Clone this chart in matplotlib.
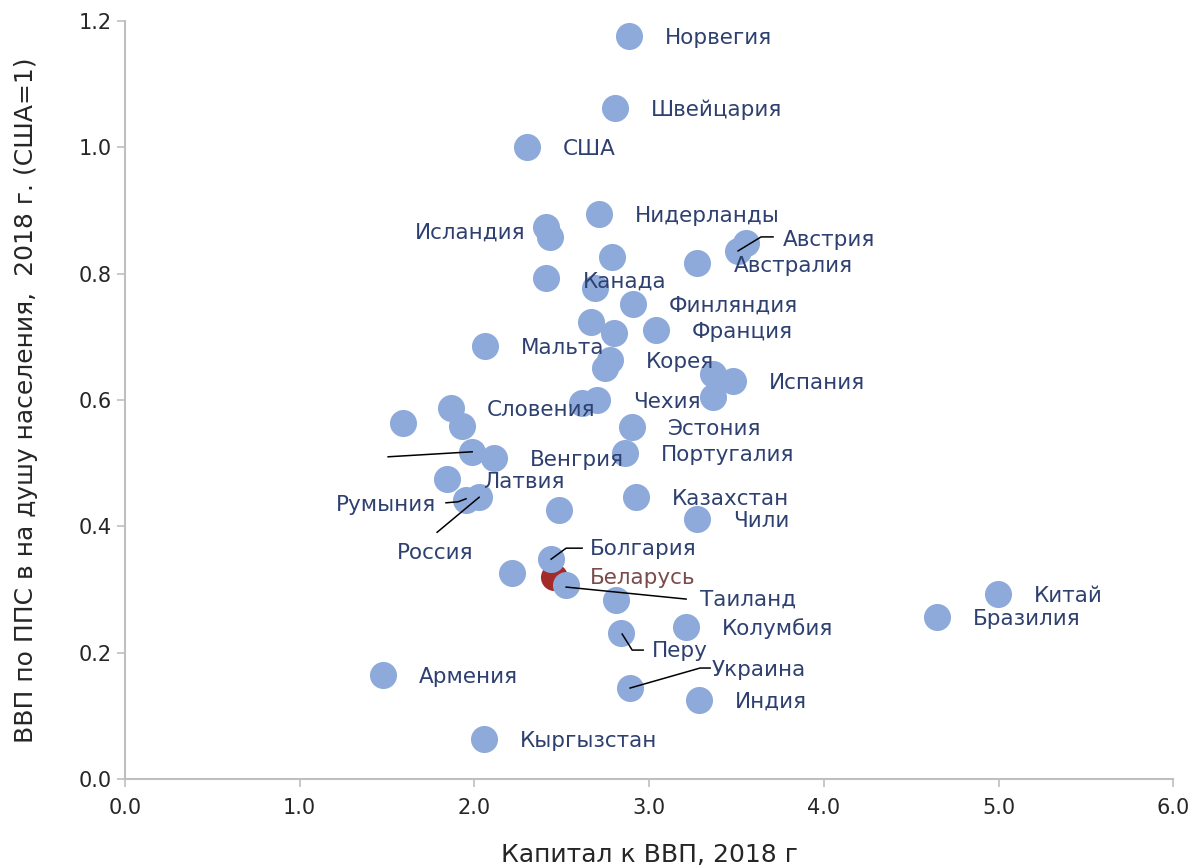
import matplotlib
matplotlib.use("Agg")
import matplotlib.pyplot as plt

# capital/GDP (x) vs GDP per capita PPP, USA=1 (y), 2018
countries = ["Норвегия", "Швейцария", "США", "Нидерланды", "Исландия", "",
             "", "Австрия", "Австралия", "", "", "Канада",
             "Финляндия", "", "", "Франция", "Мальта", "Корея",
             "", "", "Испания", "", "Чехия", "",
             "Словения", "", "", "Эстония", "Португалия", "",
             "Венгрия", "Латвия", "Румыния", "Россия", "", "Казахстан",
             "Чили", "Болгария", "Таиланд", "", "", "Колумбия",
             "Перу", "Украина", "Индия", "Армения", "Кыргызстан", "Китай",
             "Бразилия"]
capital = [2.885, 2.805, 2.301, 2.714, 2.410, 2.433,
           2.788, 3.509, 3.555, 3.275, 2.410, 2.691,
           2.908, 2.668, 2.800, 3.040, 2.061, 2.777,
           2.748, 3.366, 3.481, 3.366, 2.702, 2.616,
           1.866, 1.592, 1.929, 2.903, 2.863, 1.987,
           2.113, 1.843, 1.952, 2.027, 2.485, 2.926,
           3.275, 2.439, 2.525, 2.216, 2.811, 3.212,
           2.840, 2.891, 3.286, 1.477, 2.055, 4.998,
           4.649]
gdp_pc = [1.176, 1.062, 1.001, 0.894, 0.874, 0.858,
          0.826, 0.836, 0.849, 0.817, 0.793, 0.777,
          0.752, 0.723, 0.706, 0.711, 0.685, 0.663,
          0.651, 0.641, 0.630, 0.605, 0.600, 0.595,
          0.587, 0.564, 0.559, 0.557, 0.516, 0.518,
          0.508, 0.475, 0.442, 0.446, 0.426, 0.446,
          0.412, 0.348, 0.307, 0.326, 0.283, 0.241,
          0.231, 0.144, 0.125, 0.165, 0.063, 0.293,
          0.256]

belarus_name = "Беларусь"
belarus_x = 2.456
belarus_y = 0.320

x_ticks = [0, 1, 2, 3, 4, 5, 6]
y_ticks = [0.0, 0.2, 0.4, 0.6, 0.8, 1.0, 1.2]

BLUE = "#8eaadb"
RED = "#a52a2a"
NAVY = "#2e4070"
FS = 15.5

# label placement in pixels relative to point: (dx, dy, ha, va)
default_off = (36, -2, "left", "center")
label_off = {
    "Исландия": (-21, -6, "right", "center"),
    "Канада": (-12, 7, "left", "center"),
    "Австрия": (45, 11, "left", "center"),
    "Австралия": (-12, -23, "left", "center"),
    "Латвия": (36, -3, "left", "center"),
    "Румыния": (-30, -5, "right", "center"),
    "Россия": (-44, -56, "center", "center"),
    "Болгария": (39, 10, "left", "center"),
    "Таиланд": (134, -15, "left", "center"),
    "Перу": (31, -18, "left", "center"),
    "Украина": (82, 18, "left", "center"),
}
# leader lines, pixel offsets from the point
leaders = {
    "Австрия": [(0, 0), (23, 14), (35, 14)],
    "Румыния": [(0, 1), (-8, -2), (-20, -3)],
    "Россия": [(0, 0), (-42, -35)],
    "Болгария": [(0, 0), (15, 11), (31, 11)],
    "Таиланд": [(0, -2), (120, -14)],
    "Перу": [(1, -1), (11, -17), (22, -17)],
    "Украина": [(0, 0), (70, 20), (80, 20)],
}
stray_leader_idx = 29
stray_leader = [(0, 0), (-84, -5)]

fig = plt.figure(figsize=(11.96, 8.67), dpi=100)
ax = fig.add_axes([0.1045, 0.1015, 0.8765, 0.8743])
ax.set_xlim(0, 6)
ax.set_ylim(0, 1.2)

ax.scatter([belarus_x], [belarus_y], s=380, color=RED, linewidths=0, zorder=2)
ax.scatter(capital, gdp_pc, s=380, color=BLUE, linewidths=0, zorder=3)


def pix_line(x, y, offs):
    px, py = ax.transData.transform((x, y))
    pts = [ax.transData.inverted().transform((px + dx, py + dy)) for dx, dy in offs]
    ax.plot([p[0] for p in pts], [p[1] for p in pts], color="black",
            lw=1.1, zorder=4, clip_on=False)


for name, x, y in zip(countries, capital, gdp_pc):
    if not name:
        continue
    dx, dy, ha, va = label_off.get(name, default_off)
    ax.annotate(name, (x, y), xytext=(dx, dy), textcoords="offset pixels",
                ha=ha, va=va, fontsize=FS, color=NAVY, zorder=5)
    if name in leaders:
        pix_line(x, y, leaders[name])

pix_line(capital[stray_leader_idx], gdp_pc[stray_leader_idx], stray_leader)

ax.annotate(belarus_name, (belarus_x, belarus_y), xytext=(36, -1),
            textcoords="offset pixels", ha="left", va="center",
            fontsize=FS, color="#7b4a4a", zorder=5)

ax.set_xticks(x_ticks)
ax.set_xticklabels([f"{v:.1f}" for v in x_ticks])
ax.set_yticks(y_ticks)
ax.set_yticklabels([f"{v:.1f}" for v in y_ticks])
ax.tick_params(axis="both", colors="#bfbfbf", labelcolor="#262626",
               labelsize=15, length=6, width=1.2)
ax.tick_params(axis="x", pad=8)

for side in ["top", "right"]:
    ax.spines[side].set_visible(False)
for side in ["left", "bottom"]:
    ax.spines[side].set_color("#bfbfbf")
    ax.spines[side].set_linewidth(1.5)

ax.set_xlabel("Капитал к ВВП, 2018 г", fontsize=18, color="#262626", labelpad=18)
ax.set_ylabel("ВВП по ППС в на душу населения,  2018 г. (США=1)",
              fontsize=18, color="#262626", labelpad=8)
ax.yaxis.set_label_coords(-0.083, 0.5)

fig.savefig("out.png", dpi=100)
